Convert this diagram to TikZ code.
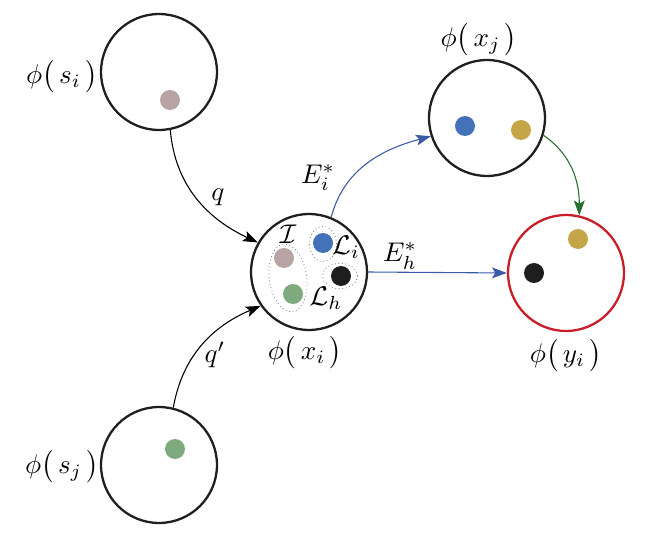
\documentclass[tikz,border=0pt]{standalone}
\usepackage{amsmath, amssymb}
\usetikzlibrary{arrows.meta}

\definecolor{dotrose}{RGB}{184,164,164}
\definecolor{dotblue}{RGB}{68,114,185}
\definecolor{dotgreen}{RGB}{126,170,126}
\definecolor{dotgold}{RGB}{196,166,72}
\definecolor{dotblack}{RGB}{30,30,30}
\definecolor{edgeblue}{RGB}{60,90,170}
\definecolor{edgegreen}{RGB}{40,110,45}
\definecolor{targetred}{RGB}{200,30,40}

\newcommand{\embd}[1]{\phi\bigl(\,#1\,\bigr)}

\begin{document}
\begin{tikzpicture}[x=0.37pt, y=-0.37pt,
    space/.style={circle, draw=black!88, line width=0.85pt, minimum size=42.9pt, inner sep=0pt},
    emb/.style={circle, fill=#1, minimum size=7.4pt, inner sep=0pt},
    map/.style={-{Stealth[length=5.5pt,width=4pt,inset=1.2pt]}, line width=0.4pt},
    grp/.style={draw=gray, densely dotted, line width=0.3pt}]
    \useasboundingbox (0,0) rectangle (664,533);

    % Draw spaces
    \node[space] (si) at (159,72) {};
    \node[space] (sj) at (159,465) {};
    \node[space] (xi) at (309,272) {};
    \node[space] (xj) at (487,118) {};
    \node[space, draw=targetred] (yi) at (566,273) {};

    % Groups inside phi(x_i)
    \draw[grp, rotate around={8:(288,278)}] (288,278) ellipse [x radius=6.9pt, y radius=12.6pt];
    \draw[grp] (323,244) ellipse [x radius=5pt, y radius=6.5pt];
    \draw[grp] (340,276) ellipse [x radius=6.5pt, y radius=4.7pt];

    % Draw points
    \node[emb=dotrose] (a) at (170,100) {};
    \node[emb=dotgreen] (b) at (175,449) {};
    \node[emb=dotrose] (c) at (284,258) {};
    \node[emb=dotblue] (d) at (323,243) {};
    \node[emb=dotblack] (e) at (341,276) {};
    \node[emb=dotgreen] (f) at (293,294) {};
    \node[emb=dotblue] (g) at (465,126) {};
    \node[emb=dotgold] (h) at (521,130) {};
    \node[emb=dotgold] (k) at (578,239) {};
    \node[emb=dotblack] (l) at (534,273) {};

    % Draw connections
    \draw[map] (si.-79) to[out=-85, in=155] (xi.150);
    \draw[map] (sj.76) to[out=80, in=203] (xi.215);
    \draw[map, edgeblue] (xi.68) to[out=75, in=195] (xj.198);
    \draw[map, edgeblue] (xi.east) -- (yi.west);
    \draw[map, edgegreen] (xj.-17) to[out=-35, in=90] (yi.77);

    % Labels
    \node (lsi) at (62,77) {$\embd{s_{i}}$};
    \node (lsj) at (62,467) {$\embd{s_{j}}$};
    \node (lxi) at (305,353) {$\embd{x_{i}}$};
    \node (lxj) at (479,40) {$\embd{x_{j}}$};
    \node (lyi) at (566,356) {$\embd{y_{i}}$};
    \node (lq) at (218,197) {$q$};
    \node (lqp) at (215,355) {$q'$};
    \node (lei) at (318,178) {$E_{i}^{*}$};
    \node (leh) at (400,256) {$E_{h}^{*}$};
    \node (lI) at (288,234) {$\mathcal{I}$};
    \node (lLi) at (346,247) {$\mathcal{L}_{i}$};
    \node (lLh) at (326,298) {$\mathcal{L}_{h}$};
\end{tikzpicture}
\end{document}
